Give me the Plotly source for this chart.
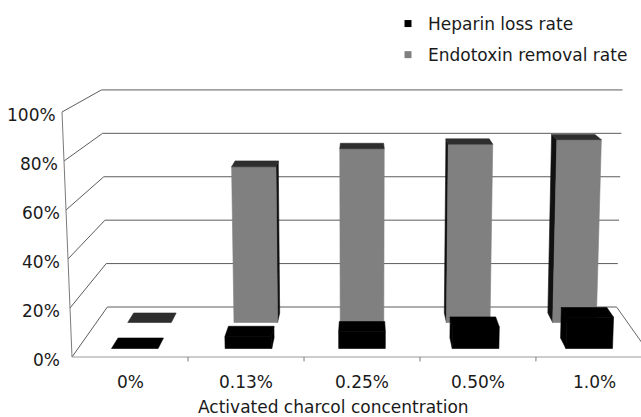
import plotly.graph_objects as go

# ---- data ----
categories = ["0%", "0.13%", "0.25%", "0.50%", "1.0%"]
heparin_loss = [0, 5, 7, 9, 13]            # %
endotoxin_removal = [0, 69, 77, 79, 81]    # %
y_ticks = [0, 20, 40, 60, 80, 100]
series_names = ["Heparin loss rate", "Endotoxin removal rate"]
axis_title = "Activated charcol concentration"

# ---- view geometry of the 3-D column chart ----
W, H = 641, 417
PX_PER_CAT = 116.0      # category spacing on the front plane
PX_PER_PCT = 2.45       # 1 % on the front plane
LEFT_PX = 72.0          # front-left floor corner (x)
FLOOR_PX = 357.0        # front floor edge (y)
CENTER = 2.0            # horizontal vanishing centre, in category units
SHRINK_X = 0.122        # horizontal foreshortening at the back wall
SHRINK_Y = 0.114        # vertical foreshortening at the back wall
FLOOR_RISE = 50 / PX_PER_PCT
FLARE_FRONT, FLARE_BACK = 0.0345, 0.0235

BAR_HALF = 0.205
HEPARIN_DEPTH = (0.17, 0.38)
ENDO_DEPTH = (0.69, 0.88)

FONT = dict(family="DejaVu Sans", size=17, color="#1a1a1a")


def project(u, v, d):
    """category position u, value v (%), depth d (0 front .. 1 back) -> axis coords"""
    s = 1 - SHRINK_X * d
    k = FLARE_FRONT + (FLARE_BACK - FLARE_FRONT) * d
    x = CENTER + (u - CENTER) * s * (1 + k * v / 100)
    y = FLOOR_RISE * d + v * (1 - SHRINK_Y * d)
    return x, y


def px_x(px):
    return -0.5 + (px - LEFT_PX) / PX_PER_CAT


def px_y(py):
    return (FLOOR_PX - py) / PX_PER_PCT


x_range = [px_x(0), px_x(W)]
y_range = [px_y(H), px_y(0)]

fig = go.Figure()


def line(points, color, width=1.0):
    pts = [project(*p) for p in points]
    fig.add_trace(go.Scatter(
        x=[p[0] for p in pts], y=[p[1] for p in pts], mode="lines",
        line=dict(color=color, width=width), hoverinfo="skip", showlegend=False))


def poly(points, color):
    pts = [project(*p) for p in points]
    pts.append(pts[0])
    fig.add_trace(go.Scatter(
        x=[p[0] for p in pts], y=[p[1] for p in pts], mode="lines",
        fill="toself", fillcolor=color, line=dict(color=color, width=0.6),
        hoverinfo="skip", showlegend=False))


# back wall gridlines and left wall diagonals
last = len(categories) - 0.5
for v in y_ticks:
    line([(-0.5, v, 1), (last, v, 1)], "#5c5c5c")
    line([(-0.5, v, 0), (-0.5, v, 1)], "#5c5c5c")

# front value axis, floor edges, category boundary ticks
line([(-0.5, 0, 0), (-0.5, 100, 0)], "#7a7a7a")
line([(-0.5, 0, 0), (last, 0, 0)], "#9a9a9a")
line([(last, 0, 1), (last, 0, 0)], "#666666")
for i in range(1, len(categories)):
    line([(i - 0.5, 0, 0), (i - 0.5, -1.8, 0)], "#7a7a7a")


def draw_bar(i, v, depth, front, top, side):
    d0, d1 = depth
    l, r = i - BAR_HALF, i + BAR_HALF
    if v > 0:
        if l > CENTER:
            poly([(l, 0, d0), (l, v, d0), (l, v, d1), (l, 0, d1)], side)
        if r < CENTER:
            poly([(r, 0, d0), (r, v, d0), (r, v, d1), (r, 0, d1)], side)
        poly([(l, 0, d0), (r, 0, d0), (r, v, d0), (l, v, d0)], front)
    poly([(l, v, d0), (r, v, d0), (r, v, d1), (l, v, d1)], top)


# back row: endotoxin removal, front row: heparin loss
for i, v in enumerate(endotoxin_removal):
    draw_bar(i, v, ENDO_DEPTH, "#808080", "#2e2e2e", "#111111")
for i, v in enumerate(heparin_loss):
    draw_bar(i, v, HEPARIN_DEPTH, "#000000", "#000000", "#000000")

# legend entries
for name, color in zip(series_names, ["#000000", "#808080"]):
    fig.add_trace(go.Scatter(
        x=[None], y=[None], mode="markers", name=name, legendgroup=name,
        marker=dict(symbol="square", size=7, color=color)))

annotations = []
for v in y_ticks:
    ax, ay = project(-0.5, v, 0)
    right_px = min(LEFT_PX + (ax - (-0.5)) * PX_PER_CAT - 4, 62)
    annotations.append(dict(x=px_x(right_px), y=ay, text=f"{v}%", xanchor="right",
                            yanchor="middle", yshift=-3, showarrow=False, font=FONT))
for i, c in enumerate(categories):
    annotations.append(dict(x=i, y=px_y(382), text=c, xanchor="center",
                            yanchor="middle", showarrow=False, font=FONT))
annotations.append(dict(x=px_x(333), y=px_y(407), text=axis_title, xanchor="center",
                        yanchor="middle", showarrow=False, font=FONT))

fig.update_layout(
    width=W, height=H, margin=dict(l=0, r=0, t=0, b=0),
    paper_bgcolor="white", plot_bgcolor="white",
    xaxis=dict(visible=False, range=x_range, fixedrange=True),
    yaxis=dict(visible=False, range=y_range, fixedrange=True),
    showlegend=True,
    legend=dict(x=(388) / W, y=1 - 6 / H, xanchor="left", yanchor="top",
                font=FONT, tracegroupgap=6, bgcolor="rgba(0,0,0,0)"),
    annotations=annotations,
)

fig.write_html("out.html")
